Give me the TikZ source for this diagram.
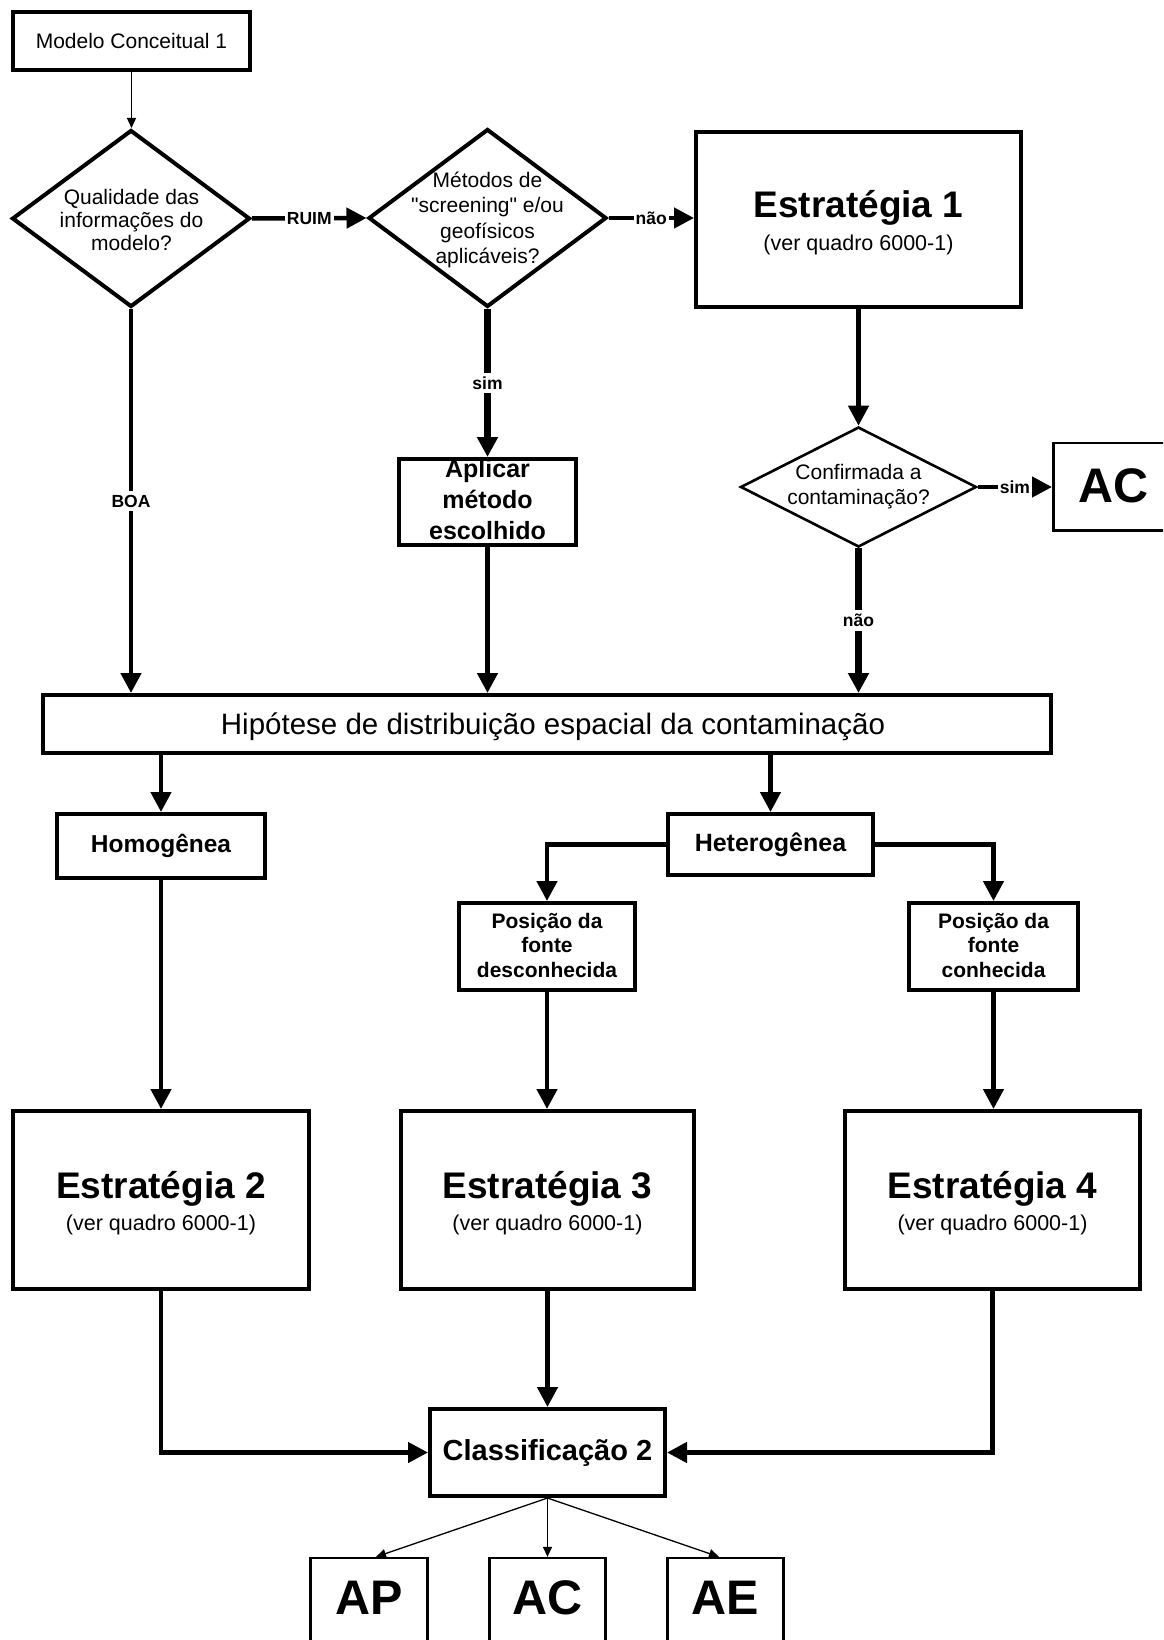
\documentclass[tikz,border=0pt]{standalone}
\usepackage{fontspec}
\setmainfont{Liberation Sans}[Ligatures=TeXOff]
\usetikzlibrary{shapes.geometric,arrows.meta}

\newcommand{\fsz}[2]{\fontsize{#1}{#2}\selectfont}

\tikzset{
  stdbox/.style={draw, rectangle, line width=4pt, inner sep=0pt, fill=white},
  lightbox/.style={draw, rectangle, line width=2.6pt, inner sep=0pt, fill=white},
  decision/.style={draw, diamond, line width=4pt, inner sep=0pt, fill=white},
  lightdecision/.style={draw, diamond, line width=2.6pt, inner sep=0pt, fill=white},
  flow/.style={line width=4.5pt, -{Triangle[length=20pt,width=20pt]}},
  heavyflow/.style={line width=6.5pt, -{Triangle[length=20pt,width=20pt]}},
  fineflow/.style={line width=1.3pt, -{Triangle[length=10pt,width=9pt]}},
  flowtag/.style={fill=white, inner xsep=2pt, inner ysep=4pt, font=\fsz{17.5}{20}\bfseries},
  plaintext/.style={align=center, inner sep=0pt, font=\fsz{21}{24}},
  boldtext/.style={align=center, inner sep=0pt, font=\fsz{25}{31}\bfseries},
  smallbold/.style={align=center, inner sep=0pt, font=\fsz{21}{24.5}\bfseries},
  stratname/.style={inner sep=0pt, anchor=base, font=\fsz{37}{40}\bfseries},
  stratnote/.style={inner sep=0pt, anchor=base, font=\fsz{21.5}{24}},
  bigcode/.style={inner sep=0pt, font=\fsz{48.5}{50}\bfseries},
}

\begin{document}
\begin{tikzpicture}[x=1pt, y=-1pt]
  \useasboundingbox (0,0) rectangle (1163,1640);
  \fill[white] (0,0) rectangle (1163,1640);
  \clip (0,0) rectangle (1163,1640);

  % --- top row -------------------------------------------------------
  \node[stdbox, minimum width=237pt, minimum height=58pt, font=\fsz{21}{24}]
    (m1) at (131.5,41) {Modelo Conceitual 1};

  \node[decision, minimum width=238pt, minimum height=177pt] (d1) at (131,218.5) {};
  \node[plaintext, font=\fsz{21}{23.3}] (d1t) at (131.5,220)
    {Qualidade das\\informações do\\modelo?};

  \node[decision, minimum width=238pt, minimum height=178pt] (d2) at (487.5,218) {};
  \node[plaintext, font=\fsz{21}{25.5}] (d2t) at (487.5,220)
    {Métodos de\\"screening" e/ou\\geofísicos\\aplicáveis?};

  \node[stdbox, minimum width=325pt, minimum height=175pt] (e1) at (858.5,219.5) {};
  \node[stratname] (e1n) at (858.5,217.5) {Estratégia 1};
  \node[stratnote] (e1q) at (858.5,250) {(ver quadro 6000-1)};

  % --- contamination check --------------------------------------------
  \node[lightdecision, minimum width=236pt, minimum height=120pt] (d3) at (858.5,487) {};
  \node[plaintext, font=\fsz{21}{25}] (d3t) at (858.5,487)
    {Confirmada a\\contaminação?};

  \node[lightbox, minimum width=121.7pt, minimum height=87.4pt] (acr) at (1114.15,486.5) {};
  \node[bigcode] (acrt) at (1113.5,486) {AC};

  \node[stdbox, minimum width=177pt, minimum height=86pt] (apl) at (487.5,502) {};
  \node[boldtext] (aplt) at (487.5,500) {Aplicar\\método\\escolhido};

  % --- spatial hypothesis ----------------------------------------------
  \node[stdbox, minimum width=1008pt, minimum height=58pt] (hyp) at (547,724) {};
  \node[inner sep=0pt, font=\fsz{29.5}{32}] (hypt) at (553,727)
    {Hipótese de distribuição espacial da contaminação};

  \node[stdbox, minimum width=208pt, minimum height=64pt, font=\fsz{24.5}{28}\bfseries]
    (homo) at (161,846) {Homogênea};
  \node[stdbox, minimum width=205pt, minimum height=61pt, font=\fsz{25}{28}\bfseries]
    (het) at (770.5,844.5) {Heterogênea};

  \node[stdbox, minimum width=176pt, minimum height=87pt] (pd) at (547,946.5) {};
  \node[smallbold] (pdt) at (547,945) {Posição da\\fonte\\desconhecida};
  \node[stdbox, minimum width=169pt, minimum height=87pt] (pc) at (993.5,946.5) {};
  \node[smallbold] (pct) at (993.5,945) {Posição da\\fonte\\conhecida};

  % --- strategies 2 to 4 -----------------------------------------------
  \node[stdbox, minimum width=296pt, minimum height=178pt] (e2) at (161,1200) {};
  \node[stratname] (e2n) at (161,1198) {Estratégia 2};
  \node[stratnote] (e2q) at (161,1230) {(ver quadro 6000-1)};

  \node[stdbox, minimum width=293pt, minimum height=178pt] (e3) at (547.5,1200) {};
  \node[stratname] (e3n) at (547.5,1198) {Estratégia 3};
  \node[stratnote] (e3q) at (547.5,1230) {(ver quadro 6000-1)};

  \node[stdbox, minimum width=295pt, minimum height=178pt] (e4) at (992.5,1200) {};
  \node[stratname] (e4n) at (992.5,1198) {Estratégia 4};
  \node[stratnote] (e4q) at (992.5,1230) {(ver quadro 6000-1)};

  % --- classification --------------------------------------------------
  \node[stdbox, minimum width=235pt, minimum height=87pt, font=\fsz{29}{32}\bfseries]
    (cls) at (547.5,1452.5) {Classificação 2};

  \node[lightbox, minimum width=117.4pt, minimum height=131.7pt] (ap) at (369,1624) {};
  \node[bigcode] (apt) at (369,1598) {AP};
  \node[lightbox, minimum width=116.4pt, minimum height=131.7pt] (acb) at (547.5,1624) {};
  \node[bigcode] (acbt) at (547.5,1598) {AC};
  \node[lightbox, minimum width=116.4pt, minimum height=131.7pt] (ae) at (725.5,1624) {};
  \node[bigcode] (aet) at (725.5,1598) {AE};

  % --- connectors ------------------------------------------------------
  \draw[fineflow] (m1.south) -- (m1.south |- d1.north);
  \draw[flow] (d1.east) -- node[flowtag] (ruim) {RUIM} (d2.west);
  \draw[flow] (d2.east) -- node[flowtag] (nao1) {não} (d2.east -| e1.west);
  \draw[heavyflow] (d2.south) -- node[flowtag] (sim1) {sim} (apl.north);
  \draw[flow] (d1.south) -- node[flowtag] (boa) {BOA} (d1.south |- hyp.north);
  \draw[flow] (apl.south) -- (apl.south |- hyp.north);
  \draw[flow] (e1.south) -- (d3.north);
  \draw[flow] (d3.east) -- node[flowtag] (sim2) {sim} (d3.east -| acr.west);
  \draw[heavyflow] (d3.south) -- node[flowtag] (nao2) {não} (d3.south |- hyp.north);

  \draw[flow] (hyp.south -| homo.north) -- (homo.north);
  \draw[flow] (hyp.south -| het.north) -- (het.north);
  \draw[flow] (het.west) -| (pd.north);
  \draw[flow] (het.east) -| (pc.north);

  \draw[flow] (homo.south) -- (homo.south |- e2.north);
  \draw[flow] (pd.south) -- (pd.south |- e3.north);
  \draw[flow] (pc.south) -- (pc.south |- e4.north);

  \draw[flow] (e2.south) |- (cls.west);
  \draw[flow] (e3.south) -- (e3.south |- cls.north);
  \draw[flow] (e4.south) |- (cls.east);

  \draw[fineflow] (cls.south) -- ([xshift=7pt]ap.north);
  \draw[fineflow] (cls.south) -- (acb.north);
  \draw[fineflow] (cls.south) -- ([xshift=-6.5pt]ae.north);
\end{tikzpicture}
\end{document}
